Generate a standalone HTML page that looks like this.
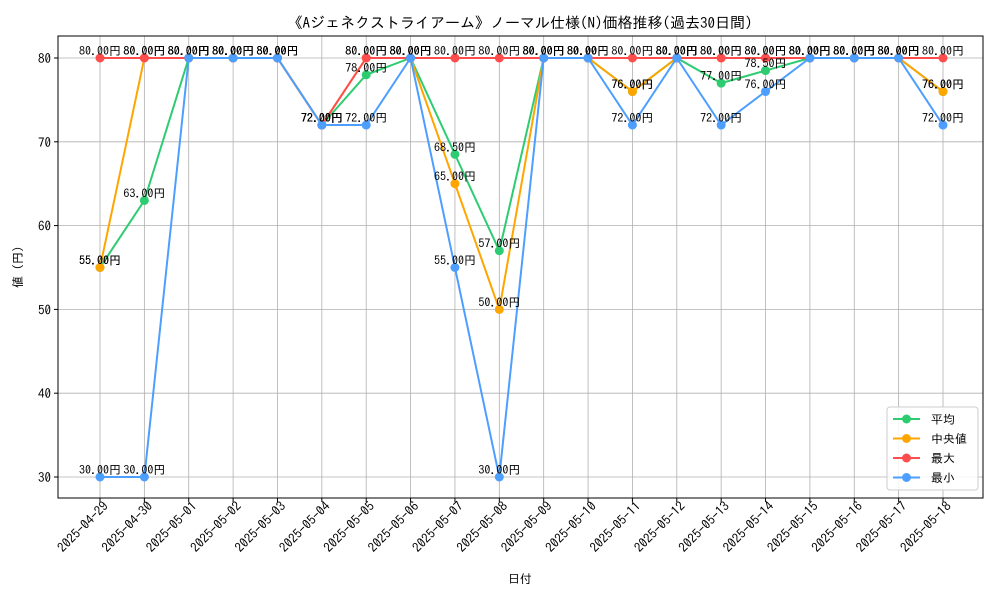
<!DOCTYPE html>
<html><head><meta charset="utf-8"><style>
body{margin:0;background:#fff}
svg text{font-family:"IPAGothic","Liberation Sans","Noto Sans CJK JP",sans-serif}
</style></head><body>
<svg id="c" width="1000" height="600" xmlns="http://www.w3.org/2000/svg">
<rect width="1000" height="600" fill="#fff"/>
<text x="520" y="28" font-size="15" text-anchor="middle">《Aジェネクストライアーム》ノーマル仕様(N)価格推移(過去30日間)</text>
<text x="520" y="583" font-size="12" text-anchor="middle">日付</text>
<text transform="translate(22,267) rotate(-90)" font-size="12" text-anchor="middle">値 (円)</text>
<g id="grid"></g><g id="series"></g><g id="labels"></g><g id="axes"></g>
<g>
<rect x="887" y="407" width="91" height="83" rx="3" fill="#fff" fill-opacity="0.85" stroke="#ccc"/>
<g id="legend"></g>
</g>
</svg>
<script>
const dates=["2025-04-29","2025-04-30","2025-05-01","2025-05-02","2025-05-03","2025-05-04","2025-05-05","2025-05-06","2025-05-07","2025-05-08","2025-05-09","2025-05-10","2025-05-11","2025-05-12","2025-05-13","2025-05-14","2025-05-15","2025-05-16","2025-05-17","2025-05-18"];
const avgVals=[55,63,80,80,80,72,78,80,68.5,57,80,80,76,80,77,78.5,80,80,80,76];
const medVals=[55,80,80,80,80,72,80,80,65,50,80,80,76,80,80,80,80,80,80,76];
const maxVals=[80,80,80,80,80,72,80,80,80,80,80,80,80,80,80,80,80,80,80,80];
const minVals=[30,30,80,80,80,72,72,80,55,30,80,80,72,80,72,76,80,80,80,72];
const yTicks=[30,40,50,60,70,80];
const seriesNames=["平均","中央値","最大","最小"];
const NS="http://www.w3.org/2000/svg";
const L=58,R=983,T=36,B=498;
const x=i=>100+i*(943-100)/(dates.length-1);
const y=v=>477-(v-30)*(477-58)/50;
function mk(tag,at,parent){const e=document.createElementNS(NS,tag);for(const k in at)e.setAttribute(k,at[k]);document.getElementById(parent).appendChild(e);return e;}
dates.forEach((d,i)=>{
 const g=mk("line",{x1:x(i),x2:x(i),y1:T,y2:B,stroke:"#b0b0b0","stroke-width":0.8},"grid");
 
 
 const tk=mk("line",{x1:x(i),x2:x(i),y1:B,y2:B+4,stroke:"#000"},"axes");
 
 
 const t=mk("text",{x:0,y:0,"font-size":13,"text-anchor":"end",transform:`translate(${x(i)+9},${B+9}) rotate(-45)`},"axes");
 t.textContent=d;
 
 
});
yTicks.forEach(v=>{
 const g=mk("line",{x1:L,x2:R,y1:y(v),y2:y(v),stroke:"#b0b0b0","stroke-width":0.8},"grid");
 
 
 const tk=mk("line",{x1:L-4,x2:L,y1:y(v),y2:y(v),stroke:"#000"},"axes");
 
 
 const t=mk("text",{x:L-7,y:y(v)+5,"font-size":13,"text-anchor":"end"},"axes");
 t.textContent=v;
 
 
});
const fr=mk("rect",{x:L,y:T,width:R-L,height:B-T,fill:"none",stroke:"#000","stroke-width":1},"axes");


const all=[avgVals,medVals,maxVals,minVals];
const cols=["#2ecc71","#ffa500","#ff4d4d","#4d9fff"];
const keys=["avg","median","max","min"];
all.forEach((vals,s)=>{
 const p=mk("polyline",{points:vals.map((v,i)=>x(i)+","+y(v)).join(" "),fill:"none",stroke:cols[s],"stroke-width":2},"series");
 
 
 vals.forEach((v,i)=>{
  const c=mk("circle",{cx:x(i),cy:y(v),r:4.5,fill:cols[s]},"series");
  
  
  const t=mk("text",{x:x(i),y:y(v)-3,"font-size":12,"text-anchor":"middle"},"labels");
  t.textContent=v.toFixed(2)+"円";
  
  
 });
});
seriesNames.forEach((n,s)=>{
 const yy=419+s*19.5;
 const l=mk("line",{x1:893,x2:920,y1:yy,y2:yy,stroke:cols[s],"stroke-width":2},"legend");
 
 
 const c=mk("circle",{cx:906.5,cy:yy,r:4.5,fill:cols[s]},"legend");
 
 
 const t=mk("text",{x:931,y:yy+4.5,"font-size":12},"legend");
 t.textContent=n;
 
 
});
</script>
</body></html>
